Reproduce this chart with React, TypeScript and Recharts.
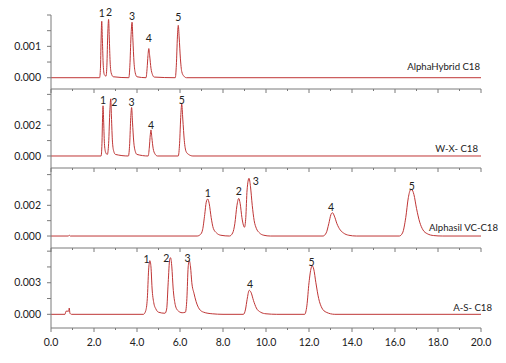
import React from 'react';
import { LineChart, Line, XAxis, YAxis, LabelList } from 'recharts';

// ---------- data ----------
const xTicks = [0, 1, 2, 3, 4, 5, 6, 7, 8, 9, 10, 11, 12, 13, 14, 15, 16, 17, 18, 19, 20];
const xTickLabels = ['0.0', '', '2.0', '', '4.0', '', '6.0', '', '8.0', '', '10.0', '', '12.0', '', '14.0', '', '16.0', '', '18.0', '', '20.0'];

const panelNames = ['AlphaHybrid C18', 'W-X- C18', 'Alphasil VC-C18', 'A-S- C18'];
const peakNames = ['1', '2', '3', '4', '5'];

const alphaHybridTrace: [number, number][] = [
  [0, 0], [2.26, 0], [2.3, 0.0003], [2.33, 0.0012], [2.36, 0.0018], [2.39, 0.0012], [2.43, 0.0004], [2.48, 0.0001],
  [2.56, 0.00005], [2.6, 0.0004], [2.64, 0.0014], [2.68, 0.00186], [2.71, 0.0013], [2.75, 0.0005], [2.8, 0.00015], [2.9, 0.00003],
  [3.62, 0], [3.67, 0.0004], [3.72, 0.0013], [3.77, 0.00177], [3.81, 0.0012], [3.86, 0.0005], [3.92, 0.00015], [4.0, 0.00003],
  [4.42, 0], [4.47, 0.0003], [4.51, 0.0007], [4.55, 0.00093], [4.59, 0.0007], [4.65, 0.0003], [4.72, 0.0001], [4.8, 0.00002],
  [5.78, 0], [5.83, 0.0004], [5.88, 0.0013], [5.92, 0.00167], [5.96, 0.0013], [6.02, 0.0006], [6.08, 0.0002], [6.18, 0.00005],
  [6.3, 0], [20, 0],
];
const alphaHybridPeaks = [2.36, 2.68, 3.77, 4.55, 5.92];

const wxTrace: [number, number][] = [
  [0, 0], [2.33, 0], [2.37, 0.0008], [2.4, 0.0026], [2.42, 0.00326], [2.45, 0.0022], [2.49, 0.0007], [2.55, 0.0002],
  [2.62, 0.0001], [2.68, 0.0008], [2.74, 0.003], [2.78, 0.00371], [2.81, 0.0026], [2.86, 0.0009], [2.92, 0.0003], [3.0, 0.0001],
  [3.6, 0], [3.66, 0.0008], [3.71, 0.0025], [3.75, 0.00315], [3.79, 0.0022], [3.85, 0.0009], [3.92, 0.0003], [4.0, 0.0001],
  [4.52, 0], [4.57, 0.0005], [4.62, 0.0014], [4.65, 0.00169], [4.69, 0.0012], [4.75, 0.0005], [4.83, 0.00015], [4.95, 0],
  [5.92, 0], [5.98, 0.0008], [6.04, 0.0027], [6.08, 0.00337], [6.13, 0.0024], [6.2, 0.001], [6.28, 0.0003], [6.4, 0.0001],
  [6.6, 0], [20, 0],
];
const wxPeaks = [2.42, 2.78, 3.75, 4.65, 6.08];

const alphasilTrace: [number, number][] = [
  [0, 0], [0.8, 0], [0.85, 0.00005], [0.9, 0], [6.8, 0], [6.95, 0.0001], [7.05, 0.0004], [7.15, 0.0014], [7.22, 0.0022],
  [7.29, 0.00241], [7.36, 0.0021], [7.45, 0.0012], [7.55, 0.0005], [7.7, 0.0002], [7.9, 0.00005], [8.3, 0], [8.45, 0.0002],
  [8.55, 0.0008], [8.65, 0.002], [8.73, 0.00245], [8.8, 0.0021], [8.88, 0.0012], [8.95, 0.0007], [9.0, 0.00057], [9.06, 0.0012],
  [9.12, 0.003], [9.21, 0.00376], [9.28, 0.0032], [9.36, 0.002], [9.45, 0.001], [9.55, 0.0005], [9.7, 0.0002], [9.9, 0.00005],
  [10.2, 0], [12.65, 0], [12.8, 0.0002], [12.92, 0.0008], [13.02, 0.0014], [13.09, 0.00152], [13.18, 0.0013], [13.3, 0.0008],
  [13.45, 0.0004], [13.6, 0.0002], [13.85, 0.00005], [14.2, 0], [16.2, 0], [16.35, 0.0002], [16.5, 0.0012], [16.62, 0.0025],
  [16.72, 0.003], [16.78, 0.00302], [16.88, 0.0027], [17.0, 0.0018], [17.15, 0.0009], [17.3, 0.0004], [17.5, 0.00015],
  [17.8, 0.00003], [18.2, 0], [20, 0],
];
const alphasilPeaks = [7.29, 8.73, 9.21, 13.09, 16.78];

const asTrace: [number, number][] = [
  [0, 0], [0.65, 0], [0.7, 0.0003], [0.82, 0.0003], [0.85, 0.0006], [0.88, 0.0001], [0.95, 0], [4.3, 0], [4.4, 0.0003],
  [4.48, 0.0015], [4.54, 0.0042], [4.6, 0.0051], [4.65, 0.0045], [4.7, 0.0025], [4.78, 0.0011], [4.88, 0.0005], [5.0, 0.0002],
  [5.3, 0.0001], [5.38, 0.0005], [5.45, 0.003], [5.52, 0.0052], [5.56, 0.00538], [5.62, 0.0045], [5.68, 0.0025], [5.76, 0.0011],
  [5.88, 0.0004], [6.1, 0.00015], [6.25, 0.0002], [6.32, 0.0015], [6.38, 0.0045], [6.43, 0.0051], [6.49, 0.0045], [6.55, 0.003],
  [6.65, 0.002], [6.75, 0.0012], [6.9, 0.0005], [7.1, 0.0002], [7.5, 0.00005], [8.0, 0], [8.95, 0], [9.05, 0.0005],
  [9.12, 0.0014], [9.22, 0.00228], [9.3, 0.0021], [9.42, 0.0013], [9.55, 0.0006], [9.75, 0.0002], [10.0, 0.00005], [10.5, 0],
  [11.8, 0], [11.9, 0.0008], [12.0, 0.003], [12.1, 0.0044], [12.15, 0.0046], [12.22, 0.0043], [12.32, 0.003], [12.45, 0.0015],
  [12.6, 0.0006], [12.8, 0.0002], [13.2, 0], [20, 0],
];
const asPeaks = [4.6, 5.56, 6.43, 9.22, 12.15];

const yTicks1 = [0, 0.0005, 0.001, 0.0015, 0.002];
const yTickLabels1 = ['0.000', '', '0.001', '', ''];
const yTicks2 = [0, 0.001, 0.002, 0.003, 0.004];
const yTickLabels2 = ['0.000', '', '0.002', '', ''];
const yTicks3 = [0, 0.001, 0.002, 0.003, 0.004];
const yTickLabels3 = ['0.000', '', '0.002', '', ''];
const yTicks4 = [0, 0.0015, 0.003, 0.0045, 0.006];
const yTickLabels4 = ['0.000', '', '0.003', '', ''];

// ---------- helpers / styles ----------
const LINE = '#bf3636';
const AXIS = '#7a7a7a';
const TEXT = '#222';
const FONT = 'Lato, "Open Sans", sans-serif';
const FS = 10.5;
const NAME_FS = 9.6;

function buildRows(trace: [number, number][], peaks: number[]) {
  return trace.map(([t, v]) => {
    const idx = peaks.indexOf(t);
    return { t, v, lbl: idx >= 0 ? peakNames[idx] : undefined };
  });
}

type PanelCfg = {
  trace: [number, number][];
  peaks: number[];
  yTicks: number[];
  yLabels: string[];
  domain: [number, number];
  top: number;
  marginTop: number;
  plotHeight: number;
  bottom: boolean;
  labelOffsets: [number, number][];
  name: string;
  nameRight: number;
  nameY: number;
};

const panels: PanelCfg[] = [
  {
    trace: alphaHybridTrace, peaks: alphaHybridPeaks, yTicks: yTicks1, yLabels: yTickLabels1,
    domain: [-0.00036, 0.002], top: 0, marginTop: 15, plotHeight: 74, bottom: false,
    labelOffsets: [[0, -8], [0.5, -7], [0, -6.5], [0, -11], [0, -8.5]],
    name: panelNames[0], nameRight: 480, nameY: 67,
  },
  {
    trace: wxTrace, peaks: wxPeaks, yTicks: yTicks2, yLabels: yTickLabels2,
    domain: [-0.00078, 0.00435], top: 89, marginTop: 0, plotHeight: 79, bottom: false,
    labelOffsets: [[0, -6], [3.6, 2.7], [0, -5.4], [0, -4.5], [0, -4]],
    name: panelNames[1], nameRight: 478, nameY: 149,
  },
  {
    trace: alphasilTrace, peaks: alphasilPeaks, yTicks: yTicks3, yLabels: yTickLabels3,
    domain: [-0.00078, 0.00443], top: 168, marginTop: 0, plotHeight: 80, bottom: false,
    labelOffsets: [[0, -5.7], [0, -7.6], [6.7, 2.7], [-1.3, -5.4], [0, -3.3]],
    name: panelNames[2], nameRight: 498, nameY: 228,
  },
  {
    trace: asTrace, peaks: asPeaks, yTicks: yTicks4, yLabels: yTickLabels4,
    domain: [-0.0013, 0.0063], top: 248, marginTop: 0, plotHeight: 80, bottom: true,
    labelOffsets: [[-3.3, -1.4], [-4.3, 0.6], [-1.6, -3], [0.7, -6], [-0.6, -4.3]],
    name: panelNames[3], nameRight: 492, nameY: 308,
  },
];

const XTick = (props: any) => {
  const { x, y, payload, showLabels } = props;
  const v = payload.value as number;
  const major = v % 2 === 0;
  const idx = xTicks.indexOf(v);
  return (
    <g>
      <line x1={x} x2={x} y1={y} y2={y + (major ? 4 : 2)} stroke={AXIS} strokeWidth={1} />
      {showLabels && major ? (
        <text x={x} y={y + 18} textAnchor="middle" fontSize={FS} fill={TEXT}>
          {xTickLabels[idx]}
        </text>
      ) : null}
    </g>
  );
};

const makePeakLabel = (offsets: [number, number][]) => (props: any) => {
  const { value } = props;
  if (value === undefined || value === null || value === '') return null;
  const x = props.x ?? props.viewBox?.x;
  const y = props.y ?? props.viewBox?.y;
  const o = offsets[peakNames.indexOf(String(value))] || [0, -6];
  return (
    <text x={x + o[0]} y={y + o[1]} textAnchor="middle" dominantBaseline="central" fontSize={FS} fill={TEXT}>
      {value}
    </text>
  );
};

const Panel = ({ cfg }: { cfg: PanelCfg }) => {
  const rows = buildRows(cfg.trace, cfg.peaks);
  const xh = cfg.bottom ? 30 : 5;
  const height = cfg.marginTop + cfg.plotHeight + xh;
  return (
    <div style={{ position: 'absolute', left: 0, top: cfg.top }}>
      <LineChart width={506} height={height} data={rows} margin={{ top: cfg.marginTop, right: 25, bottom: 0, left: 0 }}>
        <XAxis
          dataKey="t"
          type="number"
          domain={[0, 20]}
          ticks={xTicks}
          allowDataOverflow
          height={xh}
          tickSize={0}
          tickMargin={0}
          tickLine={false}
          axisLine={{ stroke: AXIS }}
          interval={0}
          tick={<XTick showLabels={cfg.bottom} />}
        />
        <YAxis
          type="number"
          domain={cfg.domain}
          ticks={cfg.yTicks}
          allowDataOverflow
          width={51}
          tickSize={4}
          tickMargin={6}
          interval={0}
          axisLine={{ stroke: AXIS }}
          tickLine={{ stroke: AXIS }}
          tick={{ fill: TEXT, fontSize: FS }}
          tickFormatter={(v: number) => cfg.yLabels[cfg.yTicks.indexOf(v)] ?? ''}
        />
        <Line
          dataKey="v"
          type="monotone"
          stroke={LINE}
          strokeWidth={1}
          dot={false}
          activeDot={false}
          isAnimationActive={false}
        >
          <LabelList dataKey="lbl" content={makePeakLabel(cfg.labelOffsets)} />
        </Line>
      </LineChart>
      <div
        style={{
          position: 'absolute',
          right: 506 - cfg.nameRight,
          top: cfg.nameY - cfg.top - 7,
          fontSize: NAME_FS,
          lineHeight: '14px',
          color: TEXT,
          whiteSpace: 'nowrap',
        }}
      >
        {cfg.name}
      </div>
    </div>
  );
};

export default function App() {
  return (
    <div style={{ position: 'absolute', left: 0, top: 0, width: 506, height: 363, background: '#fff', fontFamily: FONT }}>
      {panels.map((p, i) => (
        <Panel key={i} cfg={p} />
      ))}
    </div>
  );
}
